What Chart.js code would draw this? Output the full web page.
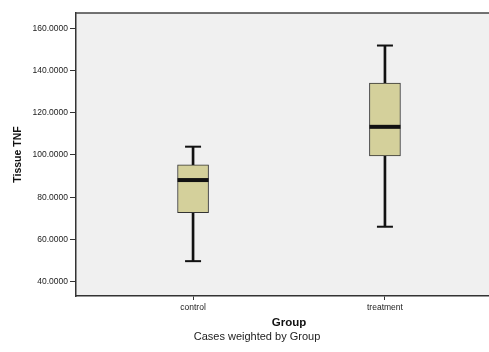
<!DOCTYPE html>
<html>
<head>
<meta charset="utf-8">
<script src="https://cdn.jsdelivr.net/npm/chart.js@4/dist/chart.umd.min.js"></script>
<style>
    html, body { margin: 0; padding: 0; background: #fff; overflow: hidden; }
    #wrap { position: absolute; left: 0; top: 0; width: 514px; height: 352px; }
</style>
</head>
<body>
<div id="wrap"><canvas id="boxChart"></canvas></div>
<script>
// values
const categories = ['control', 'treatment'];
const whiskerLow = [49.7, 66.0];
const q1 = [72.7, 99.5];
const median = [88.1, 113.3];
const q3 = [95.3, 134.0];
const whiskerHigh = [103.9, 151.8];
const yTicks = [40, 60, 80, 100, 120, 140, 160];

const fontFamily = '"Liberation Sans", Arial, sans-serif';
const boxColor = '#d4d09b';
const lineColor = '#111';

// light grey plot panel + top frame line (the lib only draws left/bottom borders)
const panelPlugin = {
    id: 'panel',
    beforeDraw(chart) {
        const { ctx, chartArea } = chart;
        ctx.save();
        ctx.fillStyle = '#f0f0f0';
        ctx.fillRect(chartArea.left, chartArea.top, chartArea.right - chartArea.left, chartArea.bottom - chartArea.top);
        ctx.restore();
    },
    afterDraw(chart) {
        const { ctx, chartArea } = chart;
        ctx.save();
        ctx.strokeStyle = '#444';
        ctx.lineWidth = 1.5;
        ctx.beginPath();
        ctx.moveTo(chartArea.left, chartArea.top);
        ctx.lineTo(chartArea.right, chartArea.top);
        ctx.stroke();
        ctx.restore();
    }
};

const idx = categories.map((c, i) => i);

new Chart(document.getElementById('boxChart'), {
    data: {
        datasets: [{
            // median band
            type: 'scatter',
            order: 0,
            data: idx.map(i => ({ x: i, y: median[i] })),
            pointStyle: 'line',
            radius: 15.5,
            borderWidth: 4,
            borderColor: lineColor
        }, {
            // whisker caps
            type: 'scatter',
            order: 0,
            data: idx.flatMap(i => [{ x: i, y: whiskerLow[i] }, { x: i, y: whiskerHigh[i] }]),
            pointStyle: 'line',
            radius: 8,
            borderWidth: 2,
            borderColor: lineColor
        }, {
            // the box (Q1..Q3)
            type: 'bar',
            order: 1,
            grouped: false,
            data: idx.map(i => ({ x: i, y: [q1[i], q3[i]] })),
            barThickness: 31,
            backgroundColor: boxColor,
            borderColor: '#333',
            borderWidth: 1,
            borderSkipped: false
        }, {
            // whisker stem
            type: 'bar',
            order: 2,
            grouped: false,
            data: idx.map(i => ({ x: i, y: [whiskerLow[i], whiskerHigh[i]] })),
            barThickness: 2,
            backgroundColor: lineColor,
            borderWidth: 0
        }]
    },
    options: {
        responsive: true,
        maintainAspectRatio: false,
        animation: false,
        events: [],
        layout: { autoPadding: false, padding: { left: 12, top: 13, right: 12, bottom: 0 } },
        plugins: {
            legend: { display: false },
            tooltip: { enabled: false },
            title: {
                display: true,
                position: 'bottom',
                text: 'Cases weighted by Group',
                color: '#222',
                font: { family: fontFamily, size: 11, weight: 'normal' },
                padding: { top: 0, bottom: 8 }
            }
        },
        scales: {
            x: {
                type: 'linear',
                offset: false,
                min: -0.61,
                max: 1.61,
                afterFit(scale) {
                    scale.height = 34.8;
                    scale.paddingLeft = 0;
                    scale.paddingRight = 0;
                },
                afterBuildTicks(scale) { scale.ticks = idx.map(i => ({ value: i })); },
                ticks: {
                    callback: v => categories[v],
                    color: '#222',
                    padding: 3,
                    maxRotation: 0,
                    font: { family: fontFamily, size: 8.5 }
                },
                grid: { offset: false, drawOnChartArea: false, drawTicks: true, tickLength: 4, color: '#333', tickWidth: 1 },
                border: { display: true, color: '#333', width: 1.5 },
                title: {
                    display: true,
                    text: 'Group',
                    color: '#111',
                    font: { family: fontFamily, size: 11.5, weight: 'bold' },
                    padding: { top: 0, bottom: 1 }
                }
            },
            y: {
                min: 33.2,
                max: 167.2,
                afterFit(scale) {
                    scale.width = 64;
                    scale.paddingTop = 0;
                    scale.paddingBottom = 0;
                },
                afterBuildTicks(scale) { scale.ticks = yTicks.map(v => ({ value: v })); },
                ticks: {
                    callback: v => v.toFixed(4),
                    color: '#222',
                    padding: 2,
                    font: { family: fontFamily, size: 8.5 }
                },
                grid: { drawOnChartArea: false, drawTicks: true, tickLength: 6, color: '#333', tickWidth: 1 },
                border: { display: true, color: '#333', width: 1.5 },
                title: {
                    display: true,
                    text: 'Tissue TNF',
                    color: '#111',
                    font: { family: fontFamily, size: 10.5, weight: 'bold', lineHeight: 1.1 },
                    padding: { top: 0, bottom: 0 }
                }
            }
        }
    },
    plugins: [panelPlugin]
});
</script>
</body>
</html>
